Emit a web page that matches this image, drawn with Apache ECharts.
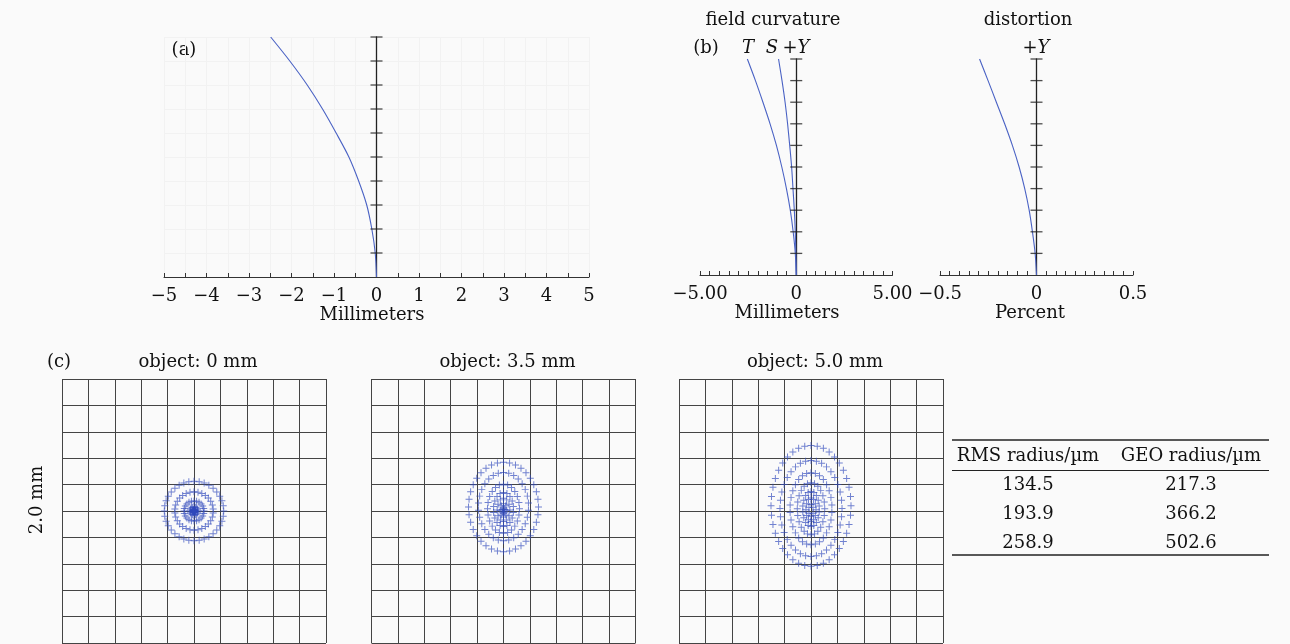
<!DOCTYPE html>
<html>
<head>
<meta charset="utf-8">
<script src="https://cdn.jsdelivr.net/npm/echarts@6/dist/echarts.min.js"></script>
<style>
  html, body { margin: 0; padding: 0; background: #fafafa; }
  #main { width: 1290px; height: 644px; }
</style>
</head>
<body>
<div id="main"></div>
<script>
// normalized field (y axis of the curves), also the y tick positions
const fieldY = [0, 0.1, 0.2, 0.3, 0.4, 0.5, 0.6, 0.7, 0.8, 0.9, 1.0];
// (a) curve, mm
const curveA = [0, -0.03, -0.11, -0.23, -0.42, -0.65, -0.95, -1.27, -1.63, -2.04, -2.49];
// (b) field curvature T / S, mm
const tanCurve = [0, -0.05, -0.16, -0.31, -0.51, -0.75, -1.03, -1.36, -1.73, -2.12, -2.54];
const sagCurve = [0, -0.02, -0.05, -0.1, -0.17, -0.24, -0.34, -0.45, -0.58, -0.74, -0.92];
// (b) distortion, percent
const distCurve = [0, -0.007, -0.021, -0.038, -0.061, -0.09, -0.125, -0.165, -0.208, -0.251, -0.295];

// (c) spot diagrams, rings (um): semi axes, centre shift, ray count
const spot0Rx = [225, 146, 76, 30, 10, 2];
const spot0Ry = [225, 146, 76, 30, 10, 2];
const spot0Dy = [0, 0, 0, 0, 0, 0];
const spot0N = [36, 30, 24, 18, 12, 6];

const spot1Rx = [265, 190, 121, 76, 48, 25, 10];
const spot1Ry = [339, 258, 186, 129, 88, 50, 20];
const spot1Dy = [30, 33, 17, 11, 8, 5, 2];
const spot1N = [36, 30, 24, 18, 12, 8, 6];

const spot2Rx = [303, 235, 159, 104, 63, 38, 18];
const spot2Ry = [458, 364, 273, 197, 133, 89, 45];
const spot2Dy = [39, 19, 17, 17, 15, 10, 5];
const spot2N = [40, 36, 30, 24, 18, 12, 6];

const spotTitles = ['object: 0 mm', 'object: 3.5 mm', 'object: 5.0 mm'];

// table
const tableHeader = ['RMS radius/\u00b5m', 'GEO radius/\u00b5m'];
const rmsRadius = [134.5, 193.9, 258.9];
const geoRadius = [217.3, 366.2, 502.6];

const FONT = 'DejaVu Serif';
const BLUE = '#4a62c4';
const MINUS = '\u2212';

function pairs(xs) {
    return xs.map((x, i) => [x, fieldY[i]]);
}

function ringPoints(rx, ry, dy, n) {
    let pts = [];
    for (let r = 0; r < rx.length; r++) {
        for (let k = 0; k < n[r]; k++) {
            let a = 2 * Math.PI * k / n[r];
            pts.push([rx[r] * Math.sin(a), dy[r] + ry[r] * Math.cos(a)]);
        }
    }
    return pts;
}

function fmtNum(v, digits) {
    let s = Math.abs(v).toFixed(digits);
    if (Math.abs(v) < 1e-9) return '0';
    return v < 0 ? MINUS + s : s;
}

var chartDom = document.getElementById('main');
var myChart = echarts.init(chartDom, null, { renderer: 'canvas' });

const labelStyle = { fontFamily: FONT, fontSize: 18, color: '#111' };

function curveX(gridIndex, min, max, interval, labelFn, grid) {
    return {
        type: 'value', gridIndex: gridIndex, min: min, max: max, interval: interval,
        axisLine: { onZero: false, lineStyle: { color: '#333', width: 1 } },
        axisTick: { show: true, inside: true, length: 4, lineStyle: { color: '#333' } },
        axisLabel: Object.assign({ margin: 10, formatter: labelFn, showMinLabel: true, showMaxLabel: true }, labelStyle),
        splitLine: { show: grid, lineStyle: { color: '#f2f2f2', width: 1 } }
    };
}

function curveY(gridIndex, grid) {
    return {
        type: 'value', gridIndex: gridIndex, min: 0, max: 1, interval: 0.1,
        axisLine: { show: true, onZero: true, lineStyle: { color: '#222', width: 1.3 } },
        axisTick: { show: false },
        axisLabel: { show: false },
        splitLine: { show: grid, lineStyle: { color: '#f2f2f2', width: 1 } }
    };
}

function spotX(gridIndex) {
    return {
        type: 'value', gridIndex: gridIndex, min: -1000, max: 1000, interval: 200,
        axisLine: { show: false }, axisTick: { show: false }, axisLabel: { show: false },
        splitLine: { show: true, lineStyle: { color: '#444', width: 1 } }
    };
}

const spotLeft = [62, 371.5, 679];

let graphics = [];
function txt(text, x, y, extra) {
    graphics.push(Object.assign({
        type: 'text', x: x, y: y,
        style: Object.assign({
            text: text, font: '18px "' + FONT + '"', fill: '#111',
            textAlign: 'center', textVerticalAlign: 'middle',
            align: 'center', verticalAlign: 'middle'
        }, (extra && extra.style) || {})
    }, extra && extra.rotation ? { rotation: extra.rotation } : {}));
}
function rule(x1, x2, y, w) {
    graphics.push({
        type: 'line', shape: { x1: x1, y1: y, x2: x2, y2: y },
        style: { stroke: '#222', lineWidth: w }
    });
}

// panel labels and titles
txt('(a)', 184, 50);
txt('Millimeters', 372, 315);
txt('field curvature', 773, 20);
txt('distortion', 1028, 20);
txt('(b)', 706, 48);
const italic = { style: { font: 'italic 18px "' + FONT + '"' } };
txt('T', 748, 48, italic);
txt('S', 772, 48, italic);
txt('+Y', 796, 48, italic);
txt('+Y', 1036, 48, italic);
txt('Millimeters', 787, 313);
txt('Percent', 1030, 313);
txt('(c)', 59, 362);
spotTitles.forEach((t, i) => txt(t, spotLeft[i] + 132 + 4, 362));
txt('2.0 mm', 37, 500, { rotation: Math.PI / 2 });

// table
rule(952, 1269, 440, 1.6);
rule(952, 1269, 470.5, 1);
rule(952, 1269, 555, 1.6);
txt(tableHeader[0], 1028, 456);
txt(tableHeader[1], 1191, 456);
const rowY = [485, 514, 543];
rmsRadius.forEach((v, i) => {
    txt(v.toFixed(1), 1028, rowY[i]);
    txt(geoRadius[i].toFixed(1), 1191, rowY[i]);
});

const plusSymbol = 'path://M4.3,0H5.7V10H4.3Z M0,4.3H10V5.7H0Z';

function spotSeries(idx, rx, ry, dy, n) {
    return {
        type: 'scatter', xAxisIndex: 3 + idx, yAxisIndex: 3 + idx,
        symbol: plusSymbol, symbolSize: 7,
        itemStyle: { color: 'rgba(48,74,188,0.85)' },
        data: ringPoints(rx, ry, dy, n),
        silent: true, animation: false
    };
}

function lineSeries(ai, xs) {
    return {
        type: 'line', xAxisIndex: ai, yAxisIndex: ai, data: pairs(xs),
        showSymbol: false, smooth: 0.3, animation: false, z: 3,
        lineStyle: { color: BLUE, width: 1.1 }
    };
}

// tick marks crossing the y axis at x = 0
function tickSeries(ai) {
    return {
        type: 'scatter', xAxisIndex: ai, yAxisIndex: ai,
        symbol: 'rect', symbolSize: [12, 1.3],
        itemStyle: { color: '#222' },
        data: fieldY.slice(1).map(y => [0, y]),
        silent: true, animation: false, z: 4
    };
}

var option = {
    backgroundColor: '#fafafa',
    animation: false,
    grid: [
        { left: 164, top: 37, width: 425, height: 240 },
        { left: 700, top: 59, width: 192.5, height: 216 },
        { left: 940, top: 59, width: 193, height: 216 },
        { left: spotLeft[0], top: 379, width: 264, height: 264 },
        { left: spotLeft[1], top: 379, width: 264, height: 264 },
        { left: spotLeft[2], top: 379, width: 264, height: 264 }
    ],
    xAxis: [
        curveX(0, -5, 5, 0.5, v => Math.abs(v - Math.round(v)) < 1e-6 ? fmtNum(Math.round(v), 0) : '', true),
        curveX(1, -5, 5, 0.5, v => Math.abs(Math.abs(v) - 5) < 1e-6 ? fmtNum(v, 2) : (Math.abs(v) < 1e-6 ? '0' : ''), false),
        curveX(2, -0.5, 0.5, 0.05, v => Math.abs(Math.abs(v) - 0.5) < 1e-6 ? fmtNum(v, 1) : (Math.abs(v) < 1e-6 ? '0' : ''), false),
        spotX(3), spotX(4), spotX(5)
    ],
    yAxis: [
        curveY(0, true), curveY(1, false), curveY(2, false),
        spotX(3), spotX(4), spotX(5)
    ],
    series: [
        lineSeries(0, curveA),
        lineSeries(1, tanCurve),
        lineSeries(1, sagCurve),
        lineSeries(2, distCurve),
        tickSeries(0), tickSeries(1), tickSeries(2),
        spotSeries(0, spot0Rx, spot0Ry, spot0Dy, spot0N),
        spotSeries(1, spot1Rx, spot1Ry, spot1Dy, spot1N),
        spotSeries(2, spot2Rx, spot2Ry, spot2Dy, spot2N)
    ],
    graphic: { elements: graphics }
};

option && myChart.setOption(option);
</script>
</body>
</html>
